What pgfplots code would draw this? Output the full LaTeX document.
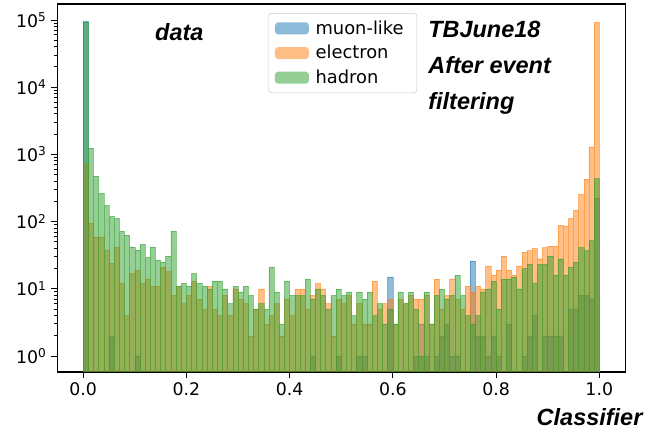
\documentclass[border=0pt]{standalone}
\usepackage{pgfplots}
\pgfplotsset{compat=1.18}
\usepackage{pgfplotstable}
\usepackage{fontspec}
\setmainfont{DejaVu Sans}
\newfontfamily\annfont{Liberation Sans}

\definecolor{mblue}{HTML}{1F77B4}
\definecolor{morange}{HTML}{FF7F0E}
\definecolor{mgreen}{HTML}{2CA02C}

% Classifier histogram, 100 bins of width 0.01 (left edges); empty bins as 0.01
\pgfplotstableread{
x    m      e      h
0.00 95000  730    93000
0.01 0.01   95     1240
0.02 0.01   59     473
0.03 0.01   59     264
0.04 0.01   38     175
0.05 2      24     120
0.06 0.01   42     112
0.07 0.01   12     72
0.08 0.01   4      63
0.09 0.01   17     42
0.10 1      19     38
0.11 0.01   12     46
0.12 0.01   14     29
0.13 0.01   11     42
0.14 0.01   11     27
0.15 0.01   21     25
0.16 0.01   18     31
0.17 0.01   8      72
0.18 0.01   11     11
0.19 0.01   6      12
0.20 0.01   8      11
0.21 0.01   13     17
0.22 0.01   7      12
0.23 0.01   5      11
0.24 0.01   11     10
0.25 0.01   5      13
0.26 0.01   4      13
0.27 0.01   8      10
0.28 0.01   4      6
0.29 0.01   10     11
0.30 0.01   7      9
0.31 0.01   6      11
0.32 0.01   2      8
0.33 0.01   5      5
0.34 0.01   10     6
0.35 0.01   3      5
0.36 0.01   4      21
0.37 0.01   6      9
0.38 0.01   2      3
0.39 0.01   7      13
0.40 0.01   4      8
0.41 0.01   10     8
0.42 0.01   10     8
0.43 0.01   5      14
0.44 1      8      7
0.45 0.01   12     10
0.46 0.01   10     8
0.47 0.01   6      5
0.48 0.01   2      8
0.49 1      7      10
0.50 0.01   6      8
0.51 0.01   8      9
0.52 0.01   3      4
0.53 1      6      9
0.54 1      3      7
0.55 0.01   3      9
0.56 0.01   13     4
0.57 0.01   5      6
0.58 0.01   6      3
0.59 15     7      5
0.60 0.01   3      3
0.61 0.01   7      9
0.62 0.01   6      6
0.63 0.01   8      9
0.64 1      7      5
0.65 3      7      1
0.66 1      8      9
0.67 0.01   3      3
0.68 1      14     8
0.69 2      5      10
0.70 3      8      7
0.71 1      14     8
0.72 1      7      16
0.73 0.01   5      8
0.74 0.01   11     4
0.75 26     9      3
0.76 2      11     4
0.77 2      10     9
0.78 1      22     10
0.79 2      16     13
0.80 1      19     5
0.81 0.01   31     14
0.82 3      19     14
0.83 0.01   16     15
0.84 0.01   22     10
0.85 1      35     20
0.86 2      37     23
0.87 4      40     12
0.88 0.01   28     23
0.89 2      41     23
0.90 2      43     31
0.91 2      43     16
0.92 2      88     28
0.93 0.01   86     16
0.94 5      112    21
0.95 5      148    25
0.96 8      255    41
0.97 8      427    37
0.98 7      1290   52
0.99 223    91800  437
1.00 1      1      1
}\histdata

\begin{document}
\begin{tikzpicture}
\useasboundingbox (-43pt,-44.25pt) rectangle (441.5pt,279pt);
\begin{axis}[
  at={(0pt,0pt)}, anchor=south west,
  scale only axis, width=425.8pt, height=276pt,
  xmin=-0.05, xmax=1.05,
  ymode=log, ymin=0.578, ymax=1.73e5,
  log origin=infty,
  axis line style={line width=0.8pt},
  tick align=outside,
  xtick pos=bottom, ytick pos=left,
  major tick length=4.5pt, minor tick length=2.6pt,
  tick style={black, line width=0.7pt},
  xtick={0,0.2,0.4,0.6,0.8,1.0},
  xticklabels={0.0,0.2,0.4,0.6,0.8,1.0},
  ytick={1,10,100,1000,10000,100000},
  yticklabels={10\textsuperscript{0},10\textsuperscript{1},10\textsuperscript{2},10\textsuperscript{3},10\textsuperscript{4},10\textsuperscript{5}},
  ticklabel style={font=\fontsize{13}{15}\selectfont},
  legend style={at={(0.371,0.9755)}, anchor=north west,
    draw=black!20, rounded corners=2.5pt, fill=white,
    font=\fontsize{13.4}{16}\selectfont,
    inner xsep=5pt, inner ysep=3.5pt, row sep=2.8pt,
    nodes={inner xsep=5pt}},
  legend cell align=left,
  legend image code/.code={\path[#1, draw=none] (3pt,-4.5pt) rectangle (28.5pt,4.5pt);},
  clip=true,
]
\addplot[ybar interval, fill=mblue, fill opacity=0.5, draw=mblue, draw opacity=0.5, line width=0.35pt]
  table[x=x, y=m] {\histdata};
\addlegendentry{muon-like}
\addplot[ybar interval, fill=morange, fill opacity=0.5, draw=morange, draw opacity=0.5, line width=0.35pt]
  table[x=x, y=e] {\histdata};
\addlegendentry{electron}
\addplot[ybar interval, fill=mgreen, fill opacity=0.5, draw=mgreen, draw opacity=0.5, line width=0.35pt]
  table[x=x, y=h] {\histdata};
\addlegendentry{hadron}

\node[anchor=base west, font=\annfont\bfseries\itshape\fontsize{17.6}{20}\selectfont, inner sep=0pt]
  at (rel axis cs:0.172,0.8995) {data};
\node[anchor=base west, font=\annfont\bfseries\itshape\fontsize{17.6}{20}\selectfont, inner sep=0pt]
  at (rel axis cs:0.653,0.910) {TBJune18};
\node[anchor=base west, font=\annfont\bfseries\itshape\fontsize{17.6}{20}\selectfont, inner sep=0pt]
  at (rel axis cs:0.653,0.810) {After event};
\node[anchor=base west, font=\annfont\bfseries\itshape\fontsize{17.6}{20}\selectfont, inner sep=0pt]
  at (rel axis cs:0.653,0.712) {filtering};
\end{axis}
\node[anchor=base east, font=\annfont\bfseries\itshape\fontsize{17.6}{20}\selectfont, inner sep=0pt]
  at (439pt,-40pt) {Classifier};
\end{tikzpicture}
\end{document}
